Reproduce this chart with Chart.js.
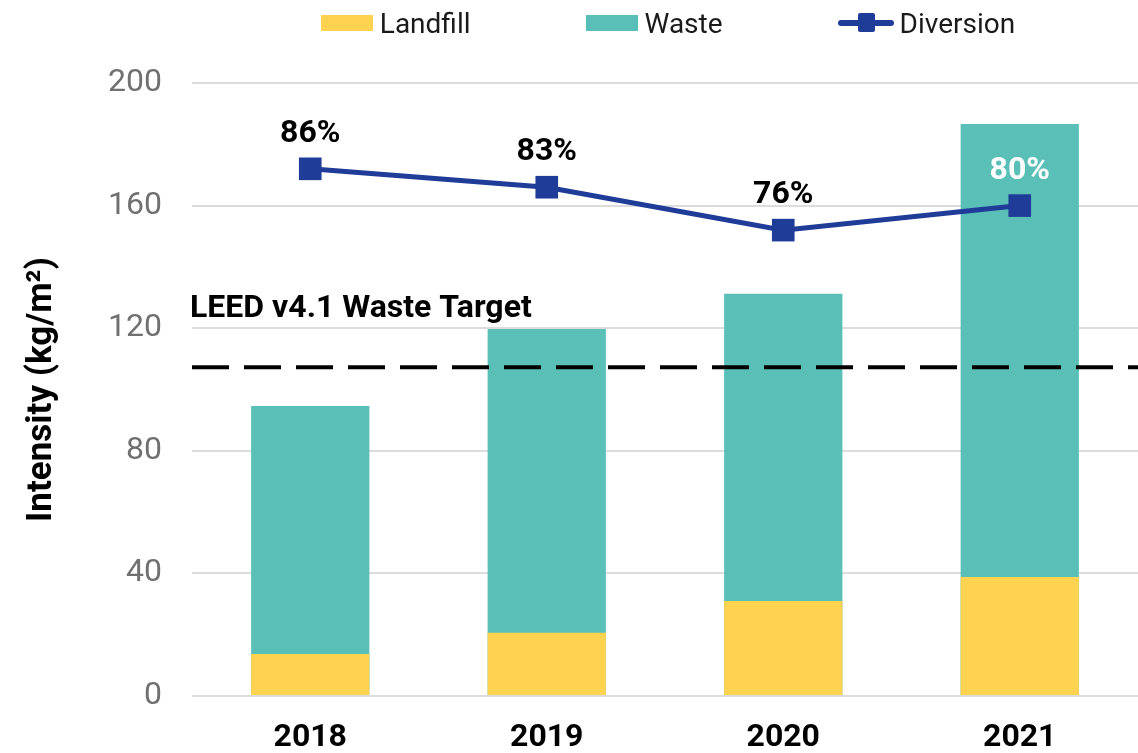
<!DOCTYPE html>
<html>
<head>
<meta charset="utf-8">
<script src="https://cdn.jsdelivr.net/npm/chart.js@4.4.0/dist/chart.umd.min.js"></script>
<style>
  body { margin: 0; background: #fff; font-family: Roboto, sans-serif; }
  #wrap { position: relative; width: 1138px; height: 753px; overflow: hidden; }
  #legend { position: absolute; top: 0; left: 195px; width: 946px; height: 46px; display: flex; justify-content: center; align-items: center; gap: 115px; font-size: 28px; color: #1a1a1a; }
  .item { display: flex; align-items: center; }
  .box { width: 52px; height: 16px; margin-right: 7px; }
  .sym { position: relative; width: 56px; height: 20px; margin-right: 6px; }
  .sym .ln { position: absolute; left: 0; top: 7px; width: 56px; height: 6px; border-radius: 3px; background: #1f3c98; }
  .sym .mk { position: absolute; left: 20px; top: 0; width: 17px; height: 19px; border-radius: 2px; background: #1f3c98; }
</style>
</head>
<body>
<div id="wrap">
  <canvas id="chart" width="1138" height="753"></canvas>
  <div id="legend"></div>
</div>
<script>
// values
const years = ['2018', '2019', '2020', '2021'];
const wasteTotal = [94.6, 119.7, 131.2, 186.6];   // kg/m2, full bar height
const landfill = [13.7, 20.6, 31.0, 38.8];        // kg/m2, drawn over the waste bar
const diversion = [86, 83, 76, 80];               // %
const diversionLabels = ['86%', '83%', '76%', '80%'];
const labelColors = ['#000', '#000', '#000', '#fff'];
const leedTarget = 107.3;
const leedLabel = 'LEED v4.1 Waste Target';

const COLORS = { landfill: '#ffd24f', waste: '#5abfb7', diversion: '#1f3c98' };

// legend (html, so the line+marker symbol can be drawn)
const legendEl = document.getElementById('legend');
legendEl.innerHTML = `
  <div class="item"><div class="box" style="background:${COLORS.landfill}"></div>Landfill</div>
  <div class="item"><div class="box" style="background:${COLORS.waste}"></div>Waste</div>
  <div class="item"><div class="sym"><div class="ln"></div><div class="mk"></div></div>Diversion</div>`;

const overlayPlugin = {
    id: 'overlay',
    afterDatasetsDraw: (chart) => {
        const { ctx, chartArea, scales } = chart;
        const ty = scales.y.getPixelForValue(leedTarget);
        ctx.save();
        // target line
        ctx.strokeStyle = '#000';
        ctx.lineWidth = 4;
        ctx.setLineDash([37, 15]);
        ctx.beginPath();
        ctx.moveTo(chartArea.left, ty);
        ctx.lineTo(chartArea.right, ty);
        ctx.stroke();
        ctx.setLineDash([]);
        ctx.fillStyle = '#000';
        ctx.font = 'bold 32px Roboto';
        ctx.textAlign = 'left';
        ctx.textBaseline = 'alphabetic';
        ctx.fillText(leedLabel, chartArea.left - 2, ty - 50);

        // diversion % labels
        const meta = chart.getDatasetMeta(0);
        ctx.font = 'bold 32px Roboto';
        ctx.textAlign = 'center';
        ctx.textBaseline = 'middle';
        meta.data.forEach((pt, i) => {
            ctx.fillStyle = labelColors[i];
            ctx.fillText(diversionLabels[i], pt.x, pt.y - 35);
        });
        ctx.restore();
    }
};

new Chart(document.getElementById('chart'), {
    data: {
        labels: years,
        datasets: [
            {
                type: 'line',
                label: 'Diversion',
                data: diversion,
                yAxisID: 'y1',
                borderColor: COLORS.diversion,
                backgroundColor: COLORS.diversion,
                borderWidth: 5,
                pointStyle: 'rect',
                pointRadius: 16,
                pointHoverRadius: 16,
                pointBorderWidth: 0,
                order: 0
            },
            {
                type: 'bar',
                label: 'Landfill',
                data: landfill,
                backgroundColor: COLORS.landfill,
                grouped: false,
                categoryPercentage: 0.5,
                barPercentage: 1,
                order: 1
            },
            {
                type: 'bar',
                label: 'Waste',
                data: wasteTotal,
                backgroundColor: COLORS.waste,
                grouped: false,
                categoryPercentage: 0.5,
                barPercentage: 1,
                order: 2
            }
        ]
    },
    options: {
        responsive: false,
        animation: false,
        layout: { autoPadding: false, padding: { top: 83, left: 0, right: -5, bottom: 0 } },
        plugins: {
            legend: { display: false },
            tooltip: { enabled: false }
        },
        scales: {
            x: {
                grid: { display: false, drawTicks: false },
                border: { display: false },
                ticks: { color: '#000', padding: 23, font: { family: 'Roboto', size: 32, weight: 'bold' } },
                afterFit: (scale) => { scale.height = 57; scale.paddingTop = 0; scale.paddingBottom = 0; }
            },
            y: {
                min: 0,
                max: 200,
                ticks: { stepSize: 40, color: '#707070', padding: 30, font: { family: 'Roboto', size: 32 } },
                grid: { color: '#dcdcdc', lineWidth: 2, drawTicks: false },
                border: { display: false },
                title: {
                    display: true,
                    text: 'Intensity (kg/m²)',
                    color: '#000',
                    padding: { top: 21, bottom: 0 },
                    font: { family: 'Roboto', size: 35, weight: 'bold' }
                },
                afterFit: (scale) => {
                    scale.width = 192;
                    scale.paddingTop = 0;
                    scale.paddingBottom = 0;
                }
            },
            y1: { display: false, min: 0, max: 100 }
        }
    },
    plugins: [overlayPlugin]
});
</script>
</body>
</html>
